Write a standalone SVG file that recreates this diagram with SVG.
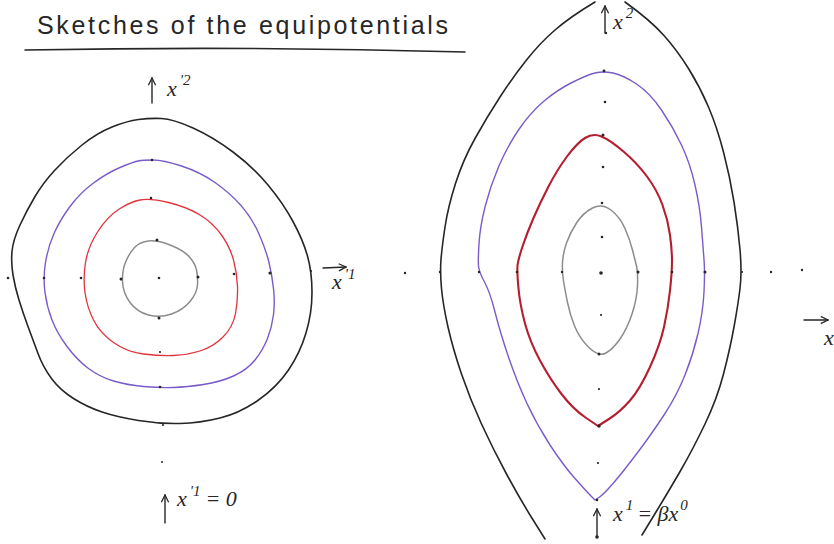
<svg xmlns="http://www.w3.org/2000/svg" width="834" height="544" viewBox="0 0 834 544">
<defs>
<style>
.c{fill:none;stroke-linecap:round;stroke-linejoin:round}
.k{stroke:#262626;stroke-width:1.6}
.p{stroke:#7a5cc8;stroke-width:1.4}
.r{stroke:#e2333b;stroke-width:1.3}
.rd{stroke:#b51e2e;stroke-width:2.1}
.g{stroke:#8c8c8c;stroke-width:1.5}
.d{fill:#262626}
.ax{fill:none;stroke:#262626;stroke-width:1.4;stroke-linecap:round}
.t{font-family:"Liberation Serif",serif;font-style:italic;fill:#262626;font-size:22px}
.s{font-size:15px}
.ttl{font-family:"Liberation Sans",sans-serif;fill:#262626;font-size:25px}
</style>
<marker id="ah" viewBox="0 0 10 10" refX="9" refY="5" markerWidth="9" markerHeight="9" markerUnits="userSpaceOnUse" orient="auto"><path d="M1,1 L9,5 L1,9" fill="none" stroke="#262626" stroke-width="1.4"/></marker>
</defs>
<rect width="834" height="544" fill="#ffffff"/>
<g id="title">
<text class="ttl" x="37" y="34" textLength="411" lengthAdjust="spacing">Sketches of the equipotentials</text>
<path class="c k" d="M25,50 Q250,46 465,52"/>
</g>
<g id="left-outer"><path class="c k" d="M112,127 Q127,121 138.5,119.5 Q150,118 161.5,118.5 Q173,119 193,128 Q213,137 233,152 Q253,167 268,185 Q283,203 293,221.5 Q303,240 307.5,256 Q312,272 312,292.5 Q312,313 306,333 Q300,353 288.5,370 Q277,387 258.5,400 Q240,413 220,418 Q200,423 180,423.5 Q160,424 138.5,420.5 Q117,417 102,412 Q87,407 73.5,398.5 Q60,390 51.5,378.5 Q43,367 38,353.5 Q33,340 28,326.5 Q23,313 19,300 Q15,287 13,275 Q11,263 12,251.5 Q13,240 20,225 Q27,210 35,196.5 Q43,183 55,170 Q67,157 82,145 Q97,133 112,127 Z"/></g>
<g id="left-purple"><path class="c p" d="M138,161 Q143,160 153,160 Q163,160 181.5,166 Q200,172 215,182.5 Q230,193 241,205.5 Q252,218 259,234 Q266,250 269,262.5 Q272,275 273.5,288.5 Q275,302 273.5,314.5 Q272,327 267.5,338.5 Q263,350 255,360 Q247,370 233.5,376 Q220,382 203.5,384.5 Q187,387 173.5,387.5 Q160,388 143.5,386.5 Q127,385 113.5,381 Q100,377 88.5,368.5 Q77,360 67,346.5 Q57,333 52,320 Q47,307 45,292.5 Q43,278 45.5,262.5 Q48,247 54,233.5 Q60,220 70,206.5 Q80,193 93.5,183 Q107,173 120,167.5 Q133,162 138,161 Z"/></g>
<g id="left-red"><path class="c r" d="M140,200 Q150,198 168.5,202.5 Q187,207 200,215 Q213,223 221.5,235 Q230,247 233.5,260 Q237,273 237.5,286.5 Q238,300 235.5,313.5 Q233,327 223,337 Q213,347 200,351 Q187,355 173.5,355.5 Q160,356 143.5,354 Q127,352 113.5,342.5 Q100,333 93.5,320 Q87,307 85,292.5 Q83,278 85.5,262.5 Q88,247 97.5,232 Q107,217 118.5,209.5 Q130,202 140,200 Z"/></g>
<g id="left-gray"><path class="c g" d="M135,247 Q140,242 148.5,241 Q157,240 170,245 Q183,250 189,256.5 Q195,263 196.5,270 Q198,277 197.5,285 Q197,293 190,301.5 Q183,310 171.5,314 Q160,318 148.5,315 Q137,312 130,302.5 Q123,293 122.5,281.5 Q122,270 126,261 Q130,252 135,247 Z"/></g>
<g id="left-dots">
<circle class="d" cx="8" cy="278" r="1.3"/><circle class="d" cx="44" cy="278" r="1.3"/><circle class="d" cx="81" cy="278" r="1.3"/><circle class="d" cx="121" cy="279" r="1.5"/><circle class="d" cx="159" cy="278" r="1.3"/><circle class="d" cx="198" cy="277" r="1.5"/><circle class="d" cx="234" cy="274" r="1.3"/><circle class="d" cx="270" cy="273" r="1.6"/><circle class="d" cx="311" cy="271" r="1.1"/>
<circle class="d" cx="157" cy="240" r="1.5"/><circle class="d" cx="151" cy="198" r="1.3"/><circle class="d" cx="152" cy="160" r="1.3"/><circle class="d" cx="159" cy="318" r="1.5"/><circle class="d" cx="160" cy="352" r="1.1"/><circle class="d" cx="160" cy="387" r="1.3"/><circle class="d" cx="163" cy="425" r="1.1"/><circle class="d" cx="162" cy="462" r="1"/>
</g>
<g id="right-outer">
<path class="c k" d="M595,2 Q570,17 555,30 Q540,43 526.5,60 Q513,77 500,97 Q487,117 475,138.5 Q463,160 455.5,183.5 Q448,207 445,227 Q442,247 441,259.5 Q440,272 441.5,288.5 Q443,305 448,327 Q453,349 461.5,374 Q470,399 481.5,424 Q493,449 506.5,474 Q520,499 532.5,519 L545,539"/>
<path class="c k" d="M625,2 Q650,20 663.5,35 Q677,50 688.5,68.5 Q700,87 708.5,107 Q717,127 723.5,152 Q730,177 734,202 Q738,227 740,249.5 Q742,272 740,288.5 Q738,305 734,327 Q730,349 723.5,374 Q717,399 705,424 Q693,449 681.5,469 Q670,489 656,512 L642,535"/>
</g>
<g id="right-purple"><path class="c p" d="M595,73 Q603,71 613,73 Q623,75 636.5,84 Q650,93 661.5,110 Q673,127 681.5,145 Q690,163 695,185 Q700,207 701.5,227 Q703,247 704,259.5 Q705,272 704,292 Q703,312 698,333.5 Q693,355 685,375 Q677,395 665,413.5 Q653,432 638,452 Q623,472 613,483.5 Q603,495 599,497.5 L595,500 L591,496 Q587,492 575,478.5 Q563,465 550,445 Q537,425 527,403.5 Q517,382 508.5,357 Q500,332 495,312 Q490,292 484.5,282 Q479,272 478.5,266 Q478,260 479,243.5 Q480,227 485,207 Q490,187 498.5,167 Q507,147 518.5,130 Q530,113 543.5,101.5 Q557,90 572,82.5 Q587,75 595,73 Z"/></g>
<g id="right-red"><path class="c rd" d="M585,138 Q593,133 601.5,136.5 Q610,140 623.5,151.5 Q637,163 647,176.5 Q657,190 662.5,205 Q668,220 670,235 Q672,250 672,261 Q672,272 670,290.5 Q668,309 664,327 Q660,345 650,367 Q640,389 630,400.5 Q620,412 609,419 L598,426 L585.5,417.5 Q573,409 561.5,394 Q550,379 540,360.5 Q530,342 525,323.5 Q520,305 518.5,288.5 Q517,272 517.5,266 Q518,260 522.5,246.5 Q527,233 533.5,218 Q540,203 548.5,186.5 Q557,170 567,156.5 Q577,143 585,138 Z"/></g>
<g id="right-gray"><path class="c g" d="M592.5,208 Q602,203 611,210 Q620,217 625,228.5 Q630,240 632.5,250 Q635,260 636.5,266 Q638,272 637.5,285.5 Q637,299 632,314 Q627,329 620,339 Q613,349 606,353 Q599,357 589.5,348 Q580,339 575,327 Q570,315 567.5,302.5 Q565,290 563.5,281 Q562,272 562.5,262.5 Q563,253 566.5,243 Q570,233 576.5,223 Q583,213 592.5,208 Z"/></g>
<g id="right-dots">
<circle class="d" cx="405" cy="273" r="1.2"/><circle class="d" cx="440" cy="272" r="1.2"/><circle class="d" cx="479" cy="272" r="1.2"/><circle class="d" cx="517" cy="272" r="1.3"/><circle class="d" cx="562" cy="272" r="1.2"/><circle class="d" cx="601" cy="273" r="1.8"/><circle class="d" cx="638" cy="272" r="1.5"/><circle class="d" cx="672" cy="272" r="1.3"/><circle class="d" cx="705" cy="272" r="1.5"/><circle class="d" cx="742" cy="272" r="1.1"/><circle class="d" cx="771" cy="272" r="1.2"/><circle class="d" cx="802" cy="270" r="1.2"/>
<circle class="d" cx="606" cy="33" r="1.2"/><circle class="d" cx="604" cy="71" r="1.4"/><circle class="d" cx="605" cy="102" r="1.3"/><circle class="d" cx="603" cy="135" r="1.5"/><circle class="d" cx="603" cy="167" r="1.3"/><circle class="d" cx="602" cy="203" r="1.3"/><circle class="d" cx="602" cy="237" r="1.3"/><circle class="d" cx="601" cy="315" r="1.1"/><circle class="d" cx="599" cy="354" r="1.5"/><circle class="d" cx="599" cy="389" r="1.1"/><circle class="d" cx="599" cy="426" r="1.7"/><circle class="d" cx="598" cy="463" r="1.1"/><circle class="d" cx="597" cy="500" r="1.3"/><circle class="d" cx="597" cy="537" r="1.8"/>
</g>
<g id="connectors">
<path class="ax" d="M152,103 L152,78" marker-end="url(#ah)"/>
<path class="ax" d="M323,268 L346,267" marker-end="url(#ah)"/>
<path class="ax" d="M165,523 L165,495" marker-end="url(#ah)"/>
<path class="ax" d="M605,33 L605,6" marker-end="url(#ah)"/>
<path class="ax" d="M597,537 L597,509" marker-end="url(#ah)"/>
<path class="ax" d="M804,320 L828,320" marker-end="url(#ah)"/>
</g>
<g id="labels">
<text class="t" x="167" y="96">x<tspan class="s" dx="3" dy="-11">'2</tspan></text>
<text class="t" x="332" y="289">x<tspan class="s" dx="3" dy="-10">'1</tspan></text>
<text class="t" x="177" y="506">x<tspan class="s" dx="3" dy="-10">'1</tspan><tspan dx="5" dy="10">= 0</tspan></text>
<text class="t" x="613" y="29">x<tspan class="s" dx="3" dy="-11">2</tspan></text>
<text class="t" x="613" y="521">x<tspan class="s" dx="3" dy="-11">1</tspan><tspan dx="4" dy="11">= βx</tspan><tspan class="s" dx="2" dy="-11">0</tspan></text>
<text class="t" x="824" y="345">x</text>
</g>
</svg>
